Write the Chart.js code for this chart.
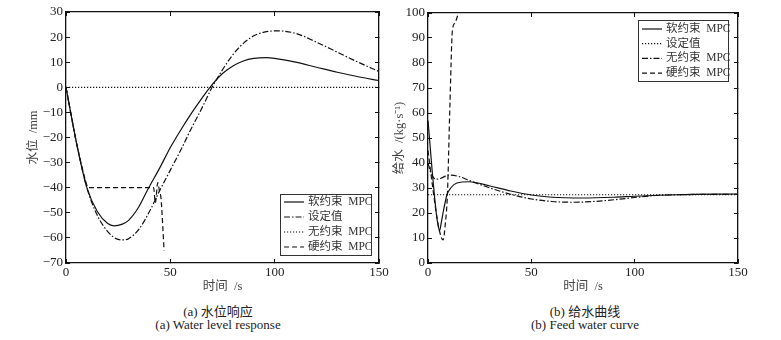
<!DOCTYPE html>
<html lang="zh">
<head>
<meta charset="UTF-8">
<title>水位响应与给水曲线</title>
<script src="https://cdn.jsdelivr.net/npm/chart.js"></script>
<style>
  body { margin: 0; background: #fff; width: 781px; height: 340px; position: relative; overflow: hidden; }
  .pane { position: absolute; top: 0; }
  .cap { position: absolute; width: 300px; text-align: center; color: #222;
         font: 13px "Liberation Serif", "Noto Sans CJK SC", serif; white-space: nowrap; }
  #log { position: absolute; left: 100px; top: 290px; font: 10px monospace; color: red; }
</style>
</head>
<body>
<canvas id="levelChart" class="pane" width="390" height="300" style="left:0"></canvas>
<canvas id="flowChart" class="pane" width="391" height="300" style="left:390px"></canvas>
<div class="cap" style="left:68px; top:301px">(a) 水位响应</div>
<div class="cap" style="left:68px; top:317px">(a) Water level response</div>
<div class="cap" style="left:435px; top:301px">(b) 给水曲线</div>
<div class="cap" style="left:435px; top:317px">(b) Feed water curve</div>
<div id="log"></div>

<script>
// ---- (a) 水位响应, 时间 s / 水位 mm
var tSoftA = [0, 2, 5, 10, 15, 20, 23, 27, 30, 35, 39, 45, 50, 55, 60, 65, 69, 75, 80, 85, 90, 96, 100, 110, 120, 130, 140, 150];
var levelSoft = [0, -9, -22, -40, -49.5, -54.3, -55.2, -54.5, -53, -47.5, -41, -32, -24, -17, -10.5, -4.5, 0, 5.5, 8.5, 10.5, 11.5, 11.8, 11.5, 10, 8, 6, 4.2, 2.7];
var tFreeA = [0, 2, 5, 10, 15, 20, 24, 27, 30, 35, 40, 45, 50, 55, 60, 65, 70, 75, 80, 85, 90, 95, 101, 110, 120, 130, 140, 150];
var levelFree = [0, -9, -22, -40, -51, -57.5, -60.3, -60.8, -60.3, -56.5, -49.5, -41, -33, -25, -16.5, -8.5, 0, 7, 13, 17.5, 20.5, 22, 22.5, 21.5, 18, 14, 10, 6.3];
var tSetA = [0, 150];
var levelSet = [0, 0];
var tHardA = [0, 2, 5, 10, 10.5, 42, 42.8, 44, 44.8, 45.5, 47];
var levelHard = [0, -9, -22, -39, -40, -40, -46, -38, -41.5, -44, -65];

// ---- (b) 给水曲线, 时间 s / 给水 kg/s
var tSoftB = [0, 1, 2, 3, 4, 5, 5.6, 6.5, 7.5, 8.5, 9.2, 11, 14, 20, 30, 40, 50, 60, 75, 90, 100, 120, 150];
var flowSoft = [57, 47, 37, 28, 20, 14.5, 13, 16.5, 21, 25, 27.4, 30, 32, 32.5, 30.8, 28.8, 27.2, 26.3, 26, 26.3, 26.7, 27.3, 27.6];
var tSetB = [0, 150];
var flowSet = [27.3, 27.3];
var tFreeB = [0, 1, 2, 3.7, 6, 10, 15, 20, 30, 40, 50, 60, 70, 80, 90, 100, 110, 120, 150];
var flowFree = [40, 37, 35, 33.5, 33.8, 35.2, 34.6, 33, 30, 27.5, 25.6, 24.6, 24.3, 24.6, 25.3, 26.2, 27, 27.3, 27.5];
var tHardB = [0, 2, 4, 5.5, 7.3, 8.3, 9.4, 10.6, 11.8, 13, 14.7, 16];
var flowHard = [45, 32, 20, 13, 9.2, 15, 27.6, 63, 93, 96, 100, 104];

var xTicks = [0, 50, 100, 150];

var SERIF = '"Liberation Serif", "Noto Sans CJK SC", serif';
var INK = '#111';

function pts(xs, ys) {
    return xs.map(function (x, i) { return { x: x, y: ys[i] }; });
}

function line(label, xs, ys, dash) {
    return {
        label: label, data: pts(xs, ys), borderColor: INK, borderWidth: 1.2,
        borderDash: dash, pointRadius: 0, cubicInterpolationMode: 'monotone', fill: false
    };
}

var SOLID = [], DASHDOT = [6, 2, 1.5, 2], DOTTED = [1.2, 1.8], DASHED = [5, 3];

// boxed legend inside the plot
var legendBoxPlugin = {
    id: 'legendBox',
    afterDraw: function (chart, args, opts) {
        var ctx = chart.ctx, L = opts.box;
        ctx.save();
        ctx.setLineDash([]);
        ctx.fillStyle = '#fff';
        ctx.fillRect(L.x, L.y, L.w, L.h);
        ctx.lineWidth = 1;
        ctx.strokeStyle = '#333';
        ctx.strokeRect(L.x + 0.5, L.y + 0.5, L.w, L.h);
        ctx.font = '11.5px ' + SERIF;
        ctx.textBaseline = 'middle';
        chart.data.datasets.forEach(function (ds, i) {
            var y = L.y + L.first + i * L.step;
            ctx.strokeStyle = INK;
            ctx.lineWidth = 1.2;
            ctx.setLineDash(ds.borderDash);
            ctx.beginPath();
            ctx.moveTo(L.x + 4, y); ctx.lineTo(L.x + 24, y);
            ctx.stroke();
            ctx.setLineDash([]);
            ctx.fillStyle = '#333';
            ctx.fillText(ds.label, L.x + 28, y);
        });
        ctx.restore();
    }
};

function setTicks(s) {
    s.ticks = xTicks.map(function (v) { return { value: v }; });
}

// inward tick marks on every side, axis lines form the box
function edgeGrid() {
    return { display: true, drawOnChartArea: false, drawTicks: true, tickLength: -4, color: INK, lineWidth: 1 };
}
var EDGE = { display: true, color: INK, width: 1.3 };

function makeOptions(cfg) {
    return {
        responsive: false,
        animation: false,
        layout: { padding: cfg.pad },
        plugins: { legend: { display: false }, tooltip: { enabled: false }, legendBox: { box: cfg.box } },
        scales: {
            x: {
                type: 'linear', position: 'bottom', min: 0, max: 150,
                afterBuildTicks: setTicks,
                grid: edgeGrid(), border: EDGE,
                ticks: { color: '#222', padding: 6, maxRotation: 0, font: { family: SERIF, size: 13 } },
                afterFit: function (s) { s.height = 37; s.paddingLeft = 0; s.paddingRight = 0; },
                title: { display: true, text: '时间  /s', color: '#444', padding: { top: 0, bottom: 6 },
                         font: { family: SERIF, size: 12.5 } }
            },
            x2: {
                type: 'linear', position: 'top', min: 0, max: 150,
                afterBuildTicks: setTicks,
                grid: edgeGrid(), border: EDGE, ticks: { display: false },
                afterFit: function (s) { s.height = 0; s.paddingLeft = 0; s.paddingRight = 0; }
            },
            y: {
                type: 'linear', position: 'left', min: cfg.ymin, max: cfg.ymax,
                grid: edgeGrid(), border: EDGE,
                ticks: {
                    stepSize: 10, color: '#222', padding: 7, font: { family: SERIF, size: 13 },
                    callback: function (v) { return String(v).replace('-', '\u2212'); }
                },
                afterFit: function (s) { s.width = cfg.yWidth; s.paddingTop = 0; s.paddingBottom = 0; },
                title: { display: true, text: cfg.yTitle, color: '#444', padding: { top: cfg.yTitlePad, bottom: 0 },
                         font: { family: SERIF, size: 12.5 } }
            },
            y2: {
                type: 'linear', position: 'right', min: cfg.ymin, max: cfg.ymax,
                grid: edgeGrid(), border: EDGE, ticks: { display: false, stepSize: 10 },
                afterFit: function (s) { s.width = 0; s.paddingTop = 0; s.paddingBottom = 0; }
            }
        }
    };
}

try {
new Chart(document.getElementById('levelChart'), {
    type: 'line',
    data: {
        datasets: [
            line('软约束  MPC', tSoftA, levelSoft, SOLID),
            line('设定值', tFreeA, levelFree, DASHDOT),
            line('无约束  MPC', tSetA, levelSet, DOTTED),
            line('硬约束  MPC', tHardA, levelHard, DASHED)
        ]
    },
    options: makeOptions({
        pad: { left: 0, right: 11, top: 12, bottom: 0 },
        ymin: -70, ymax: 30, yWidth: 66, yTitle: '水位  /mm', yTitlePad: 26,
        box: { x: 280, y: 194, w: 91, h: 61, first: 8, step: 15 }
    }),
    plugins: [legendBoxPlugin]
});

new Chart(document.getElementById('flowChart'), {
    type: 'line',
    data: {
        datasets: [
            line('软约束  MPC', tSoftB, flowSoft, SOLID),
            line('设定值', tSetB, flowSet, DOTTED),
            line('无约束  MPC', tFreeB, flowFree, DASHDOT),
            line('硬约束  MPC', tHardB, flowHard, DASHED)
        ]
    },
    options: makeOptions({
        pad: { left: 0, right: 43, top: 13, bottom: 0 },
        ymin: 0, ymax: 100, yWidth: 38, yTitle: '给水  /(kg·s\u207B\u00B9)', yTitlePad: 2,
        box: { x: 248, y: 20, w: 90, h: 61, first: 9, step: 14.7 }
    }),
    plugins: [legendBoxPlugin]
});
} catch (e) { document.getElementById('log').textContent = e.message; }
</script>
</body>
</html>
